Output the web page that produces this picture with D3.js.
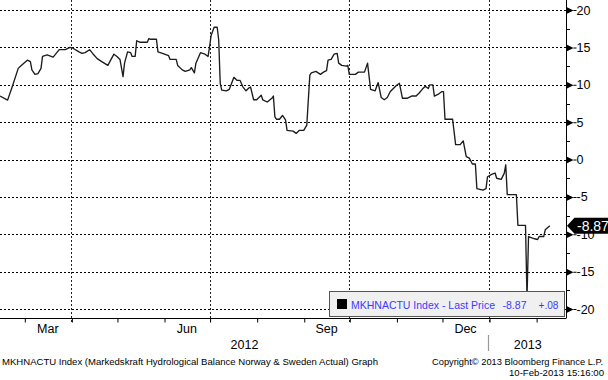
<!DOCTYPE html>
<html><head><meta charset="utf-8">
<script src="https://cdn.jsdelivr.net/npm/d3@7"></script>
<style>
html,body{margin:0;padding:0;background:#fff;}
svg{display:block;font-family:"Liberation Sans",Arial,sans-serif;}
</style></head><body>
<svg id="c" width="608" height="380"></svg>
<script>
// ---- data ----
const dates = [
"2012-02-14","2012-02-19","2012-02-22","2012-02-26","2012-02-28","2012-03-03","2012-03-05","2012-03-06","2012-03-08","2012-03-10",
"2012-03-12","2012-03-13","2012-03-16","2012-03-20","2012-03-22","2012-03-24","2012-03-28","2012-03-31","2012-04-02","2012-04-06",
"2012-04-08","2012-04-10","2012-04-13","2012-04-15","2012-04-18","2012-04-21","2012-04-25","2012-04-29","2012-05-01","2012-05-03",
"2012-05-05","2012-05-06","2012-05-08","2012-05-10","2012-05-11","2012-05-13","2012-05-14","2012-05-16","2012-05-21","2012-05-22",
"2012-05-23","2012-05-27","2012-05-28","2012-05-31","2012-06-04","2012-06-05","2012-06-09","2012-06-10","2012-06-13","2012-06-15",
"2012-06-18","2012-06-19","2012-06-21","2012-06-22","2012-06-25","2012-06-28","2012-06-30","2012-07-01","2012-07-02","2012-07-04",
"2012-07-06","2012-07-07","2012-07-08","2012-07-09","2012-07-12","2012-07-14","2012-07-17","2012-07-19","2012-07-21","2012-07-23",
"2012-07-25","2012-07-27","2012-07-28","2012-07-30","2012-08-01","2012-08-04","2012-08-05","2012-08-08","2012-08-11","2012-08-12",
"2012-08-13","2012-08-14","2012-08-16","2012-08-18","2012-08-20","2012-08-21","2012-08-25","2012-08-27","2012-08-29","2012-09-01",
"2012-09-03","2012-09-05","2012-09-06","2012-09-09","2012-09-12","2012-09-14","2012-09-16","2012-09-17","2012-09-19","2012-09-21",
"2012-09-23","2012-09-24","2012-09-26","2012-09-29","2012-09-30","2012-10-01","2012-10-05","2012-10-07","2012-10-11","2012-10-13",
"2012-10-15","2012-10-18","2012-10-20","2012-10-21","2012-10-22","2012-10-24","2012-10-26","2012-10-28","2012-10-31","2012-11-01",
"2012-11-03","2012-11-05","2012-11-08","2012-11-11","2012-11-14","2012-11-16","2012-11-18","2012-11-20","2012-11-22","2012-11-23",
"2012-11-25","2012-11-26","2012-11-29","2012-12-01","2012-12-02","2012-12-03","2012-12-08","2012-12-10","2012-12-13","2012-12-15",
"2012-12-17","2012-12-19","2012-12-21","2012-12-23","2012-12-24","2012-12-28","2012-12-30","2012-12-31","2013-01-03","2013-01-05",
"2013-01-06","2013-01-09","2013-01-11","2013-01-12","2013-01-13","2013-01-19","2013-01-20","2013-01-25","2013-01-26","2013-01-27",
"2013-01-31","2013-02-02","2013-02-03","2013-02-06","2013-02-07","2013-02-10"];
const values = [
8.5,7.95,9.7,12.2,12.6,13.3,13.1,12.0,11.4,11.5,
12.2,13.8,14.0,13.7,14.2,14.7,14.7,15.0,14.9,14.4,
14.2,14.3,14.7,14.2,13.5,13.1,12.6,14.1,13.8,13.4,
11.1,12.9,14.4,14.3,13.8,13.8,15.9,15.7,15.7,16.2,
16.1,16.1,14.4,14.2,13.9,13.4,13.4,12.6,12.0,11.8,
12.0,12.3,11.6,12.9,14.3,14.1,13.8,15.1,16.6,17.7,
17.7,16.0,10.2,9.3,9.2,9.4,11.0,10.6,10.6,9.7,
9.2,9.6,9.7,8.0,8.0,8.6,8.0,7.7,8.2,8.5,
5.7,5.4,5.4,5.9,5.3,3.9,3.8,3.5,3.9,3.9,
4.6,11.3,11.6,11.8,11.4,11.7,11.9,13.3,13.4,14.1,
14.2,12.9,12.6,12.5,12.6,11.4,11.4,11.7,11.7,12.9,
9.4,9.2,10.3,9.3,8.3,8.0,8.3,9.1,9.7,9.9,
10.2,8.2,8.2,8.5,8.5,8.9,9.4,9.8,9.5,10.0,
10.0,8.5,8.8,9.1,9.1,5.4,5.4,2.0,2.0,2.5,
0.4,0.2,-0.6,-0.6,-3.9,-4.1,-3.9,-2.3,-1.95,-1.8,
-2.5,-2.65,-1.85,-0.7,-4.7,-4.7,-8.8,-8.8,-18.5,-10.3,
-10.6,-10.7,-10.3,-10.3,-9.4,-8.87];
const yTicks = [20,15,10,5,0,-5,-10,-15,-20];
const yMinorTicks = [17.5,12.5,7.5,2.5,-2.5,-7.5,-12.5,-17.5];
const labelMonths = ["Mar","Jun","Sep","Dec"];
const years = ["2012","2013"];
const lastPrice = "-8.87";
const lastChange = "+.08";
const legendName = "MKHNACTU Index - Last Price";
const footerLeft = "MKHNACTU Index (Markedskraft Hydrological Balance Norway & Sweden Actual) Graph";
const footerCopy = "Copyright\u00A9 2013 Bloomberg Finance L.P.";
const footerDate = "10-Feb-2013 15:16:00";

// ---- layout ----
const PR = 566.5, PB = 318;
const parse = d3.utcParse("%Y-%m-%d");
const data = dates.map((d,i)=>({date:parse(d), v:values[i]}));
const x0 = new Date(Date.UTC(2012,1,14)), x1 = new Date(Date.UTC(2013,1,21));
const x = d3.scaleUtc().domain([x0,x1]).range([0,PR]);
const y = d3.scaleLinear().domain([-21.2,21.35]).range([PB,0]);

const svg = d3.select("#c");
const crisp = v => Math.round(v)+0.5;

// gridlines
svg.append("g").selectAll("line").data(yTicks).join("line")
  .attr("x1",0).attr("x2",PR).attr("y1",d=>crisp(y(d))).attr("y2",d=>crisp(y(d)))
  .attr("stroke","#000").attr("stroke-dasharray","2,2");
const months = d3.utcMonth.range(d3.utcMonth.ceil(x0), x1);
const quarters = months.filter(m=>m.getUTCMonth()%3===0);
svg.append("g").selectAll("line").data(quarters).join("line")
  .attr("x1",d=>crisp(x(d))).attr("x2",d=>crisp(x(d))).attr("y1",0).attr("y2",PB+4)
  .attr("stroke","#222").attr("stroke-dasharray","2,2");

// series
svg.append("path").datum(data)
  .attr("fill","none").attr("stroke","#1c1c1c").attr("stroke-width",1.35)
  .attr("stroke-linejoin","round")
  .attr("d",d3.line().x(d=>x(d.date)).y(d=>y(d.v)));

// bottom axis
const xa = svg.append("g").attr("transform",`translate(0,${PB+0.5})`)
  .call(d3.axisBottom(x).tickValues(months).tickSize(4).tickFormat(""));
xa.select(".domain").attr("d",`M0,0H${PR}`).attr("stroke","#000");
xa.selectAll(".tick line").attr("stroke","#000").attr("transform","translate(0.5,0)");

const labelled = months.filter(m=>labelMonths.includes(d3.utcFormat("%b")(m)));
svg.append("g").selectAll("text").data(labelled).join("text")
  .attr("x",d=>(x(d)+x(d3.utcMonth.offset(d,1)))/2).attr("y",333)
  .attr("text-anchor","middle").attr("font-size",12.5).attr("fill","#000")
  .text(d=>d3.utcFormat("%b")(d));
const jan = new Date(Date.UTC(2013,0,1));
const yearSpans = [[x(x0),x(jan)],[x(jan),x(x1)]];
svg.append("g").selectAll("text").data(years).join("text")
  .attr("x",(d,i)=>(yearSpans[i][0]+yearSpans[i][1])/2).attr("y",348.5)
  .attr("text-anchor","middle").attr("font-size",12.5).attr("fill","#000").text(d=>d);
svg.append("line").attr("x1",crisp(x(jan))-1).attr("x2",crisp(x(jan))-1).attr("y1",335).attr("y2",351)
  .attr("stroke","#999").attr("stroke-width",1.2);

// right axis
const ya = svg.append("g").attr("transform",`translate(${PR},0)`)
  .call(d3.axisRight(y).tickValues(yTicks).tickSize(0).tickPadding(10).tickFormat(d=>String(d)));
ya.select(".domain").attr("d",`M0,0V${PB}`).attr("stroke","#000");
ya.selectAll(".tick text").attr("font-size",12.5).attr("font-family","Liberation Sans, Arial, sans-serif").attr("fill","#000");
ya.selectAll(".tick").append("path").attr("d","M0,-3.5L7,0L0,3.5Z M7,-0.5H10V0.5H7Z").attr("fill","#000");
svg.append("g").selectAll("line").data(yMinorTicks).join("line")
  .attr("x1",PR).attr("x2",PR+3.5).attr("y1",d=>crisp(y(d))).attr("y2",d=>crisp(y(d))).attr("stroke","#000");

// legend
const lg = svg.append("g");
lg.append("rect").attr("x",329.5).attr("y",291.5).attr("width",235).attr("height",25)
  .attr("fill","#f0f0f0").attr("stroke","#555");
lg.append("rect").attr("x",337).attr("y",299).attr("width",10).attr("height",10).attr("fill","#000");
const lgText = [[legendName,351,144],[lastPrice,502.5,24],[lastChange,538.5,20]];
lg.selectAll("text").data(lgText).join("text")
  .attr("x",d=>d[1]).attr("y",309).attr("font-size",10.5).attr("fill","#3b3bff")
  .attr("textLength",d=>d[2]).attr("lengthAdjust","spacingAndGlyphs").text(d=>d[0]);

// last price tag
const yc = y(+lastPrice);
svg.append("path").attr("d",`M${PR+0.5},${yc}L${PR+8},${yc-8}H608V${yc+8}H${PR+8}Z`).attr("fill","#000");
svg.append("text").attr("x",577).attr("y",yc+5).attr("font-size",14).attr("fill","#fff").text(lastPrice);

// footer
svg.append("text").attr("x",2).attr("y",364.5).attr("font-size",9.6).attr("fill","#000")
  .attr("textLength",376).attr("lengthAdjust","spacingAndGlyphs").text(footerLeft);
svg.append("text").attr("x",603).attr("y",364.5).attr("font-size",9.3).attr("fill","#000").attr("text-anchor","end")
  .attr("textLength",171).attr("lengthAdjust","spacingAndGlyphs").text(footerCopy);
svg.append("text").attr("x",604).attr("y",375.5).attr("font-size",8.7).attr("fill","#000").attr("text-anchor","end")
  .attr("textLength",95).attr("lengthAdjust","spacingAndGlyphs").text(footerDate);
</script>
</body></html>
